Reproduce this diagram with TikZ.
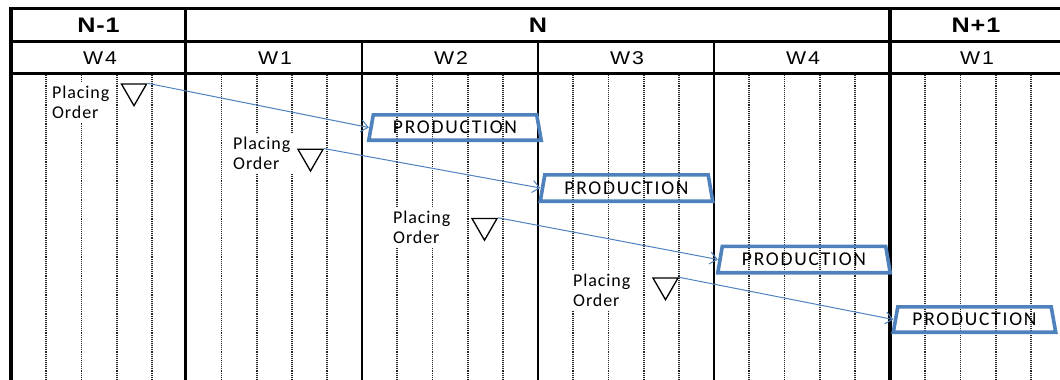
\documentclass[tikz,border=0pt]{standalone}
\usepackage{fontspec}
\setmainfont{Liberation Sans}
\newfontfamily\yrfont[FakeStretch=1.2,LetterSpace=4]{Liberation Sans}
\newfontfamily\wkfont[FakeStretch=1.15,LetterSpace=10]{Liberation Sans}
\newfontfamily\calfont[LetterSpace=5]{Carlito}
\newfontfamily\prodfont[LetterSpace=9]{Carlito}
\usetikzlibrary{shapes.geometric,arrows.meta}
\definecolor{obl}{HTML}{4F81BD}
\begin{document}
\begin{tikzpicture}[x=1pt,y=-1pt,
  thickline/.style={line width=3.2pt},
  thinline/.style={line width=1.8pt},
  daydot/.style={line width=1.8pt, black!85, dash pattern=on 1pt off 0.9pt},
  yearlbl/.style={font=\fontsize{21}{24}\selectfont\bfseries\yrfont},
  weeklbl/.style={font=\fontsize{18.5}{20}\selectfont\wkfont},
  placing/.style={font=\fontsize{18}{20}\selectfont\calfont, align=left, fill=white, inner xsep=3pt, inner ysep=4pt, anchor=west},
  marker/.style={regular polygon, regular polygon sides=3, shape border rotate=180, draw, line width=1.3pt, minimum size=29pt, inner sep=0pt},
  prodbox/.style={rectangle, minimum width=172pt, minimum height=25pt, inner sep=0pt, font=\fontsize{19.5}{20}\selectfont\prodfont},
  prodline/.style={draw=obl, line width=3.6pt, line join=miter},
  flow/.style={obl, line width=1pt, -{Straight Barb[length=7pt,width=12pt]}}
]
\useasboundingbox (0,0) rectangle (1060,380);

% day lines
\foreach \b in {11,186.2,362,538,714,890}{
  \foreach \k in {1,...,4}{
    \draw[daydot] (\b+35.2*\k,75) -- (\b+35.2*\k,380);
  }
}
% grid
\draw[thickline] (9.5,8.5) -- (1060,8.5);
\draw[thickline] (9.5,41.5) -- (1060,41.5);
\draw[thickline] (9.5,73.5) -- (1060,73.5);
\draw[thickline] (11,7) -- (11,380);
\draw[thickline] (185.5,7) -- (185.5,380);
\draw[thickline] (890,7) -- (890,380);
\foreach \x in {362,538,714}{
  \draw[thinline] (\x,41.5) -- (\x,380);
}

% headers
\node[yearlbl] (ynm1) at (98.5,25) {N-1};
\node[yearlbl] (yn) at (538,25) {N};
\node[yearlbl] (ynp1) at (976,25) {N+1};
\node[weeklbl] (w0) at (100,58) {W4};
\node[weeklbl] (w1) at (275,58) {W1};
\node[weeklbl] (w2) at (451,58) {W2};
\node[weeklbl] (w3) at (627,58) {W3};
\node[weeklbl] (w4) at (803,58) {W4};
\node[weeklbl] (w5) at (977,58) {W1};

% placing order labels
\node[placing] (po1) at (49,102.5) {Placing\\Order};
\node[placing] (po2) at (230,153) {Placing\\Order};
\node[placing] (po3) at (390,227) {Placing\\Order};
\node[placing] (po4) at (570,290) {Placing\\Order};

% markers
\node[marker] (t1) at (134,91.2) {};
\node[marker] (t2) at (310.5,156.5) {};
\node[marker] (t3) at (484.5,225.7) {};
\node[marker] (t4) at (665.5,285.2) {};

% production boxes
\node[prodbox] (p1) at (455,127.5) {PRODUCTION};
\node[prodbox, minimum height=26pt] (p2) at (626.5,188) {PRODUCTION};
\node[prodbox, minimum height=26pt] (p3) at (804,259.5) {PRODUCTION};
\node[prodbox, minimum width=162pt] (p4) at (974.5,319.5) {PRODUCTION};
\foreach \p in {p1,p2,p3,p4}{
  \draw[prodline] ([xshift=4.5pt]\p.north west) -- ([xshift=-4.5pt]\p.north east)
    -- (\p.south east) -- (\p.south west) -- cycle;
}

% arrows
\draw[flow] (t1.corner 2) -- (p1.west);
\draw[flow] (t2.corner 2) -- (p2.west);
\draw[flow] (t3.corner 2) -- (p3.west);
\draw[flow] (t4.corner 2) -- (p4.west);
\end{tikzpicture}
\end{document}
